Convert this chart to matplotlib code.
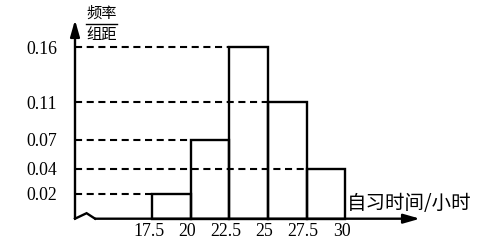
import numpy as np
import matplotlib
matplotlib.use("Agg")
import matplotlib.pyplot as plt
import matplotlib.transforms as mtransforms
from matplotlib.lines import Line2D

# data: class edges (hours) and frequency/width
edges = [17.5, 20, 22.5, 25, 27.5, 30]
freq = [0.02, 0.07, 0.16, 0.11, 0.04]
xticks = [17.5, 20, 22.5, 25, 27.5, 30]
xticklabels = ["17.5", "20", "22.5", "25", "27.5", "30"]
yticks = [0.02, 0.04, 0.07, 0.11, 0.16]
yticklabels = ["0.02", "0.04", "0.07", "0.11", "0.16"]

# the drawing is not to scale on y: piecewise scale through the tick values
knot_v = np.array([-1.0, 0, 0.02, 0.04, 0.07, 0.11, 0.16, 1.0])
knot_p = np.array([-1250.0, 0, 25, 50, 78.7, 116.4, 171.7, 171.7 + 0.84 * 1106])

def fwd(v):
    return np.interp(v, knot_v, knot_p)

def inv(p):
    return np.interp(p, knot_p, knot_v)

W, H = 483, 249
fig = plt.figure(figsize=(W / 100, H / 100), dpi=100)
x0, x1 = 75, 420        # pixel positions of the axes
ytop, ybase = 20, 218.7
ax = fig.add_axes([x0 / W, (H - ybase) / H, (x1 - x0) / W, (ybase - ytop) / H])
ax.set_yscale("function", functions=(fwd, inv))
px_per_unit = 15.44
ax.set_xlim(12.5, 12.5 + (x1 - x0) / px_per_unit)
ax.set_ylim(0, inv(ybase - ytop))
for s in ax.spines.values():
    s.set_visible(False)

lw = 1.7
# bars
ax.bar(edges[:-1], freq, width=2.5, align="edge", fill=False,
       edgecolor="k", linewidth=lw, clip_on=False)

# dashed guide lines from the y axis to each bar
ax.hlines(freq, 12.5, edges[:-1], colors="k", linewidth=1.5,
          linestyles=(0, (3.4, 2.2)), clip_on=False)

# axes with arrows
arrow = dict(arrowstyle="-|>,head_length=0.7,head_width=0.2", color="k",
             lw=lw, shrinkA=0, shrinkB=0, mutation_scale=14)
ax.annotate("", xy=(0, 1), xytext=(0, 0), xycoords="axes fraction",
            arrowprops=arrow, annotation_clip=False)
ax.plot([12.5, 12.5 + 0.75, 12.5 + 1.3], [0, 0.0044, 0], color="k",
        lw=lw, clip_on=False, solid_joinstyle="miter")
ax.annotate("", xy=(1, 0), xytext=(1.3 * px_per_unit / (x1 - x0), 0),
            xycoords="axes fraction", arrowprops=arrow, annotation_clip=False)

serif = "Liberation Serif"
ax.set_yticks(yticks)
ax.set_yticklabels(yticklabels, fontsize=12.8, family=serif)
ax.set_xticks(xticks)
ax.set_xticklabels(xticklabels, fontsize=12.8, family=serif)
ax.tick_params(axis="y", length=0, pad=13)
ax.tick_params(axis="x", length=0, pad=3.0)
ax.minorticks_off()
shift = mtransforms.ScaledTranslation(-3.5 / 100, 0, fig.dpi_scale_trans)
for lab in ax.get_xticklabels():
    lab.set_transform(lab.get_transform() + shift)

cjk = ["Noto Sans CJK SC", "DejaVu Sans"]
fig.text(347 / W, 1 - 203.5 / H, "自习时间/小时", fontsize=14, family=cjk,
         ha="left", va="center")
fig.text(101.5 / W, 1 - 13.5 / H, "频率", fontsize=11, family=cjk,
         ha="center", va="center")
fig.text(101.5 / W, 1 - 34 / H, "组距", fontsize=11, family=cjk,
         ha="center", va="center")
fig.add_artist(Line2D([86 / W, 117 / W], [1 - 24 / H, 1 - 24 / H],
                      color="k", lw=1.0))

fig.savefig("out.png", dpi=100)
